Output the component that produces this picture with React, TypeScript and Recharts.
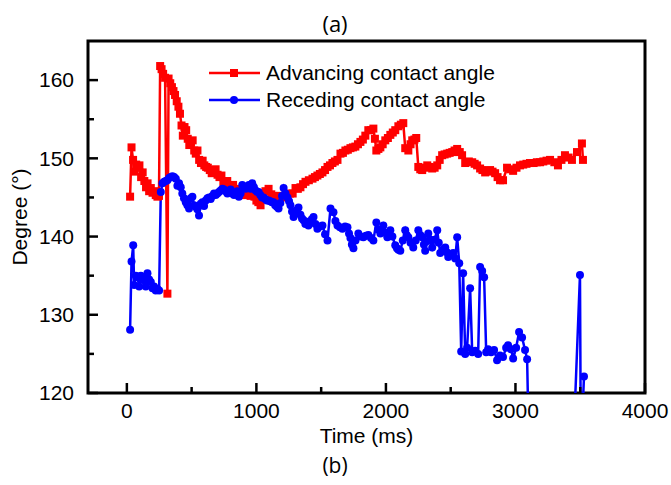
import React from 'react';
import { LineChart, Line, XAxis, YAxis, ReferenceArea } from 'recharts';

// [time (ms), angle (deg)]
const advancing: [number, number][] = [
  [25, 145.1], [36, 151.4], [48, 149.8], [60, 148.3], [72, 149.2], [85, 148.8], [97, 149.1],
  [110, 147.6], [122, 148.2], [135, 147.1], [148, 146.3], [160, 146.8], [172, 145.8], [185, 146.2],
  [198, 145.6], [210, 145.8], [223, 145.3], [236, 145.1], [248, 145.2], [257, 161.8], [268, 161.4],
  [280, 160.8], [295, 160.3], [313, 132.7], [322, 160.2], [335, 159.6], [348, 159.1], [360, 158.6],
  [372, 158.1], [385, 157.3], [398, 156.6], [410, 155.7], [422, 154.2], [432, 152.9], [445, 154.0],
  [458, 153.6], [470, 152.5], [482, 151.7], [495, 152.1], [508, 152.3], [520, 151.0], [532, 150.6],
  [545, 151.0], [558, 149.8], [572, 149.4], [585, 149.7], [598, 149.1], [612, 148.9], [625, 148.8],
  [640, 148.5], [655, 148.1], [670, 148.4], [685, 148.6], [700, 147.9], [715, 147.6], [730, 147.8],
  [745, 147.0], [760, 146.8], [775, 147.1], [790, 146.4], [805, 146.2], [820, 146.6], [835, 146.0],
  [850, 145.8], [865, 146.1], [880, 145.6], [895, 145.9], [910, 145.3], [925, 145.6], [940, 145.4],
  [955, 145.2], [970, 145.7], [985, 145.1], [1000, 144.6], [1015, 144.4], [1032, 144.0], [1050, 144.9],
  [1070, 145.8], [1094, 146.1], [1115, 145.4], [1132, 145.2], [1155, 145.0], [1180, 145.2], [1210, 145.0],
  [1235, 145.3], [1260, 145.5], [1280, 145.5], [1302, 146.2], [1320, 146.1], [1340, 146.3], [1360, 146.7],
  [1379, 147.0], [1405, 147.2], [1433, 147.4], [1452, 147.6], [1471, 147.8], [1490, 148.0], [1510, 148.2],
  [1530, 148.5], [1549, 148.9], [1568, 149.1], [1587, 149.4], [1606, 149.6], [1626, 149.8], [1649, 150.6],
  [1668, 150.7], [1687, 151.0], [1706, 151.1], [1726, 151.3], [1745, 151.4], [1764, 151.5], [1784, 151.8],
  [1803, 152.1], [1822, 152.4], [1841, 152.9], [1864, 153.6], [1885, 153.6], [1903, 153.8], [1915, 152.5],
  [1926, 151.0], [1942, 151.2], [1957, 151.4], [1975, 151.8], [1995, 152.3], [2015, 152.6], [2034, 153.0],
  [2053, 153.3], [2072, 153.6], [2096, 154.1], [2115, 154.3], [2134, 154.5], [2149, 151.3], [2173, 151.0],
  [2190, 151.8], [2203, 152.3], [2220, 152.4], [2234, 152.6], [2250, 148.9], [2265, 148.6], [2280, 148.5],
  [2300, 148.8], [2319, 149.1], [2338, 148.9], [2357, 148.7], [2376, 148.8], [2396, 149.1], [2415, 149.8],
  [2434, 150.4], [2453, 150.5], [2473, 150.6], [2492, 150.7], [2512, 150.8], [2530, 151.0], [2550, 151.2],
  [2570, 150.8], [2588, 150.4], [2612, 149.4], [2640, 149.6], [2666, 149.5], [2685, 149.3], [2704, 149.1],
  [2727, 148.7], [2745, 148.5], [2766, 148.2], [2785, 148.4], [2804, 148.5], [2823, 148.3], [2843, 148.1],
  [2862, 147.6], [2881, 147.2], [2904, 147.2], [2935, 148.8], [2960, 148.6], [2982, 148.4], [3008, 148.8],
  [3035, 149.1], [3060, 149.2], [3085, 149.3], [3112, 149.4], [3140, 149.4], [3165, 149.5], [3190, 149.5],
  [3215, 149.6], [3240, 149.7], [3267, 149.8], [3300, 149.5], [3328, 149.1], [3355, 149.8], [3382, 150.4],
  [3410, 150.1], [3436, 149.8], [3475, 150.8], [3513, 151.9], [3521, 149.8],
];

const receding: [number, number][] = [
  [25, 128.1], [36, 136.8], [49, 138.9], [56, 133.8], [69, 135.0], [82, 134.8], [95, 133.6],
  [108, 135.0], [121, 134.8], [133, 134.4], [146, 133.6], [159, 135.3], [172, 134.5], [185, 134.2],
  [198, 133.4], [210, 133.6], [223, 133.1], [236, 133.3], [249, 133.1], [262, 145.7], [275, 146.8],
  [288, 147.0], [300, 147.1], [313, 147.2], [326, 147.5], [339, 147.6], [352, 147.7], [365, 147.6],
  [378, 147.4], [390, 146.5], [403, 146.8], [416, 146.3], [428, 145.5], [441, 144.9], [455, 144.4],
  [467, 144.0], [480, 143.6], [493, 144.9], [506, 145.1], [519, 144.0], [532, 143.8], [544, 143.5],
  [557, 142.7], [570, 144.2], [583, 144.4], [596, 143.9], [609, 144.6], [622, 144.9], [635, 145.0],
  [647, 144.8], [660, 145.2], [673, 145.5], [686, 145.3], [699, 145.5], [711, 145.7], [724, 145.9],
  [737, 146.1], [750, 146.0], [763, 145.8], [776, 145.5], [788, 145.7], [801, 146.0], [814, 145.5],
  [827, 145.3], [840, 145.6], [852, 145.8], [865, 145.1], [878, 145.5], [891, 146.6], [904, 146.3],
  [917, 146.1], [930, 146.4], [942, 146.6], [955, 146.1], [968, 146.8], [981, 146.3], [994, 145.9],
  [1007, 145.7], [1017, 145.7], [1030, 145.3], [1043, 145.0], [1055, 145.0], [1068, 144.8], [1081, 144.6],
  [1094, 144.6], [1107, 144.5], [1120, 144.4], [1132, 144.4], [1145, 144.0], [1158, 143.8], [1171, 143.6],
  [1185, 144.3], [1198, 145.2], [1210, 146.2], [1225, 145.5], [1240, 145.0], [1252, 144.5], [1263, 144.0],
  [1275, 143.2], [1287, 142.5], [1300, 143.0], [1313, 143.4], [1325, 143.7], [1340, 142.8], [1352, 142.3],
  [1364, 142.1], [1378, 141.6], [1390, 141.9], [1402, 141.4], [1415, 141.8], [1428, 142.2], [1441, 142.5],
  [1456, 141.6], [1471, 141.0], [1490, 141.3], [1510, 141.4], [1530, 140.3], [1549, 139.5], [1572, 143.6],
  [1595, 143.1], [1610, 142.0], [1626, 141.4], [1645, 141.2], [1664, 141.0], [1685, 141.3], [1703, 141.2],
  [1715, 140.4], [1726, 139.8], [1737, 139.0], [1749, 138.5], [1765, 139.5], [1787, 140.4], [1805, 140.0],
  [1826, 139.9], [1845, 140.1], [1864, 140.2], [1885, 139.8], [1903, 139.5], [1926, 141.8], [1940, 140.9],
  [1957, 140.4], [1970, 140.9], [1980, 141.4], [1995, 140.5], [2011, 139.9], [2023, 140.3], [2034, 140.8],
  [2050, 140.0], [2072, 138.9], [2085, 138.5], [2096, 138.3], [2111, 138.2], [2130, 139.5], [2149, 140.8],
  [2160, 140.2], [2173, 139.9], [2190, 139.2], [2211, 138.6], [2230, 139.5], [2250, 140.8], [2265, 140.2],
  [2280, 139.9], [2293, 139.0], [2303, 138.2], [2315, 139.4], [2327, 140.4], [2342, 139.6], [2357, 138.6],
  [2375, 139.6], [2396, 140.8], [2408, 139.2], [2419, 137.9], [2440, 138.3], [2458, 138.6], [2470, 138.0],
  [2481, 137.4], [2500, 137.6], [2519, 137.9], [2535, 137.2], [2550, 139.9], [2566, 136.6], [2581, 125.3],
  [2596, 135.3], [2612, 125.0], [2627, 125.8], [2650, 133.4], [2666, 125.2], [2689, 125.4], [2712, 125.0],
  [2727, 136.1], [2743, 135.6], [2758, 134.8], [2774, 125.2], [2789, 125.6], [2812, 125.2], [2835, 125.5],
  [2858, 124.2], [2881, 124.8], [2904, 124.6], [2928, 125.8], [2943, 126.1], [2966, 125.6], [2982, 124.4],
  [3005, 125.8], [3028, 127.8], [3051, 127.1], [3074, 125.5], [3090, 124.3], [3105, 112], [3444, 112],
  [3498, 135.1], [3505, 112], [3529, 122.1],
];

const xTicks = [0, 500, 1000, 1500, 2000, 2500, 3000, 3500, 4000];
const yTicks = [120, 125, 130, 135, 140, 145, 150, 155, 160];

const advRows = advancing.map(([t, deg]) => ({ t, deg }));
const recRows = receding.map(([t, deg]) => ({ t, deg }));

const FONT = '"Liberation Sans", Arial, sans-serif';

const XTick = (props: any) => {
  const { x, y, payload } = props;
  const major = payload.value % 1000 === 0;
  return (
    <g>
      <line x1={x} x2={x} y1={y} y2={y - (major ? 10 : 6)} stroke="#000" strokeWidth={2.5} />
      {major && (
        <text x={x} y={y + 25} textAnchor="middle" fontSize={21} fontFamily={FONT} fill="#000">
          {payload.value}
        </text>
      )}
    </g>
  );
};

const YTick = (props: any) => {
  const { x, y, payload } = props;
  const major = payload.value % 10 === 0;
  return (
    <g>
      <line x1={x} x2={x + (major ? 10 : 6)} y1={y} y2={y} stroke="#000" strokeWidth={2.5} />
      {major && (
        <text x={x - 14} y={y} dy="0.35em" textAnchor="end" fontSize={21} fontFamily={FONT} fill="#000">
          {payload.value}
        </text>
      )}
    </g>
  );
};

const SquareDot = (p: any) => {
  const { cx, cy, index } = p;
  if (cx == null || cy == null) return <g key={`sq-${index}`} />;
  return <rect key={`sq-${index}`} x={cx - 4} y={cy - 4} width={8} height={8} fill="#ff0000" />;
};

const App = () => {
  return (
    <div style={{ position: 'relative', width: 671, height: 485, background: '#fff' }}>
      <style>{'body{margin:0}'}</style>
      <LineChart width={671} height={485} margin={{ top: 41, right: 26, bottom: 42, left: 0 }}>
        <XAxis
          dataKey="t"
          type="number"
          domain={[-300, 4000]}
          allowDataOverflow
          ticks={xTicks}
          tick={<XTick />}
          tickLine={false}
          axisLine={false}
          tickSize={0}
          tickMargin={0}
          height={50}
          label={{ value: 'Time (ms)', position: 'insideBottom', offset: 0, fontSize: 21, fontFamily: FONT, fill: '#000' }}
        />
        <YAxis
          type="number"
          domain={[120, 165]}
          allowDataOverflow
          ticks={yTicks}
          tick={<YTick />}
          tickLine={false}
          axisLine={false}
          tickSize={0}
          tickMargin={0}
          width={88}
          label={{
            value: 'Degree (°)',
            angle: -90,
            position: 'insideLeft',
            offset: 20,
            fontSize: 21,
            fontFamily: FONT,
            fill: '#000',
            style: { textAnchor: 'middle' },
          }}
        />
        <ReferenceArea x1={-300} x2={4000} y1={120} y2={165} fill="none" fillOpacity={0} stroke="#000" strokeWidth={3} />
        <Line
          data={advRows}
          dataKey="deg"
          type="linear"
          stroke="#ff0000"
          strokeWidth={2.5}
          dot={SquareDot}
          activeDot={false}
          isAnimationActive={false}
        />
        <Line
          data={recRows}
          dataKey="deg"
          type="linear"
          stroke="#0000ff"
          strokeWidth={2.5}
          dot={{ r: 4, fill: '#0000ff', stroke: '#0000ff', strokeWidth: 0 }}
          activeDot={false}
          isAnimationActive={false}
        />
      </LineChart>
      <svg width={671} height={485} style={{ position: 'absolute', left: 0, top: 0, pointerEvents: 'none' }}>
        <text x={335} y={32} textAnchor="middle" fontSize={22} fontFamily='"Open Sans", sans-serif' fill="#000">(a)</text>
        <text x={335} y={473} textAnchor="middle" fontSize={21} fontFamily='"Open Sans", sans-serif' fill="#000">(b)</text>
        <line x1={209} x2={260} y1={73} y2={73} stroke="#ff0000" strokeWidth={2.5} />
        <rect x={230} y={69} width={8} height={8} fill="#ff0000" />
        <text x={266} y={73} dy="0.35em" fontSize={21} fontFamily={FONT} fill="#000">Advancing contact angle</text>
        <line x1={209} x2={260} y1={100} y2={100} stroke="#0000ff" strokeWidth={2.5} />
        <circle cx={234} cy={100} r={4} fill="#0000ff" />
        <text x={266} y={100} dy="0.35em" fontSize={21} fontFamily={FONT} fill="#000">Receding contact angle</text>
      </svg>
    </div>
  );
};

export default App;
